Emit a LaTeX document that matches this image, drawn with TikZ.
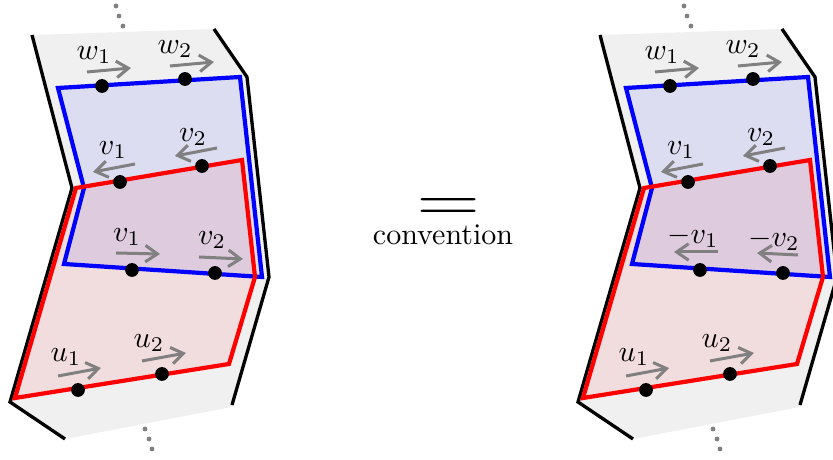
\documentclass[tikz,border=0pt]{standalone}
\usetikzlibrary{arrows.meta}
\definecolor{sheet}{RGB}{240,240,240}
\tikzset{
  edge/.style={line width=1.1pt, draw=black, line join=miter},
  sheetfill/.style={fill=sheet, draw=none},
  bfill/.style={fill=blue, fill opacity=0.08, draw=none},
  rfill/.style={fill=red, fill opacity=0.08, draw=none},
  bline/.style={draw=blue, line width=1.4pt, line join=miter},
  rline/.style={draw=red, line width=1.4pt, line join=miter},
  dot/.style={circle, fill=black, inner sep=0pt, minimum size=4.6pt},
  vdot/.style={circle, fill=gray, inner sep=0pt, minimum size=1.6pt},
  vec/.style={draw=gray, line width=1pt, -{Straight Barb[length=4pt,width=5.5pt]}},
  lbl/.style={inner sep=0pt, anchor=center},
}
\begin{document}
\begin{tikzpicture}[x=0.3333pt, y=-0.3333pt]
\useasboundingbox (0,0) rectangle (833,460);
\clip (0,0) rectangle (833,460);

% ---------- left panel ----------
\begin{scope}
  \fill[sheetfill] (32,35) -- (214,29) -- (247,77) -- (269,277) -- (232,407) -- (65,439) -- (10,402) -- (72,188) -- cycle;
  \fill[bfill] (58,88) -- (240,77) -- (262,277) -- (64,264) -- (84,188) -- cycle;
  \fill[rfill] (76,188) -- (242,160) -- (255,277) -- (229,364) -- (15,398) -- cycle;
  \draw[edge] (32,35) -- (72,188) -- (10,402) -- (65,439);
  \draw[edge] (214,29) -- (247,77) -- (269,277) -- (232,405);
  \draw[bline] (58,88) -- (240,77) -- (262,277) -- (64,264) -- (84,188) -- cycle;
  \draw[rline] (76,188) -- (242,160) -- (255,277) -- (229,364) -- (15,398) -- cycle;
  % dots on edges
  \node[dot] (Lw1) at (102,86) {};
  \node[dot] (Lw2) at (185,79) {};
  \node[dot] (Lv1a) at (120,182) {};
  \node[dot] (Lv2a) at (202,166) {};
  \node[dot] (Lv1b) at (132,270) {};
  \node[dot] (Lv2b) at (215,273) {};
  \node[dot] (Lu1) at (78,390) {};
  \node[dot] (Lu2) at (162,374) {};
  % vectors
  \coordinate (Lw1s) at (87,72);  \coordinate (Lw1e) at (131,68);
  \coordinate (Lw2s) at (170,66); \coordinate (Lw2e) at (214,62);
  \coordinate (Lv1as) at (135,164); \coordinate (Lv1ae) at (93,172);
  \coordinate (Lv2as) at (217,148); \coordinate (Lv2ae) at (175,156);
  \coordinate (Lv1bs) at (116,253); \coordinate (Lv1be) at (160,254);
  \coordinate (Lv2bs) at (199,257); \coordinate (Lv2be) at (243,259);
  \coordinate (Lu1s) at (58,376); \coordinate (Lu1e) at (101,368);
  \coordinate (Lu2s) at (142,361); \coordinate (Lu2e) at (186,353);
  \draw[vec] (Lw1s) -- (Lw1e);
  \draw[vec] (Lw2s) -- (Lw2e);
  \draw[vec] (Lv1as) -- (Lv1ae);
  \draw[vec] (Lv2as) -- (Lv2ae);
  \draw[vec] (Lv1bs) -- (Lv1be);
  \draw[vec] (Lv2bs) -- (Lv2be);
  \draw[vec] (Lu1s) -- (Lu1e);
  \draw[vec] (Lu2s) -- (Lu2e);
  % labels
  \node[lbl] (LTw1) at (94,55) {$w_1$};
  \node[lbl] (LTw2) at (175,49) {$w_2$};
  \node[lbl] (LTv1a) at (113,150) {$v_1$};
  \node[lbl] (LTv2a) at (193,137) {$v_2$};
  \node[lbl] (LTv1b) at (127,237) {$v_1$};
  \node[lbl] (LTv2b) at (212,240) {$v_2$};
  \node[lbl] (LTu1) at (66,357) {$u_1$};
  \node[lbl] (LTu2) at (149,343) {$u_2$};
  % ellipsis dots
  \node[vdot] (Ltd1) at (116,6) {};
  \node[vdot] (Ltd2) at (119,16) {};
  \node[vdot] (Ltd3) at (123,26) {};
  \node[vdot] (Lbd1) at (145,429) {};
  \node[vdot] (Lbd2) at (149,439) {};
  \node[vdot] (Lbd3) at (152,449) {};
\end{scope}

% ---------- middle: "=" with "convention" under it ----------
\node[inner sep=0pt, anchor=south, align=center] (eq) at (443,245)
  {\kern4pt\scalebox{2.75}[2]{$=$}\\[-4pt]convention};

% ---------- right panel ----------
\begin{scope}[shift={(568,0)}]
  \fill[sheetfill] (32,35) -- (214,29) -- (247,77) -- (269,277) -- (232,407) -- (65,439) -- (10,402) -- (72,188) -- cycle;
  \fill[bfill] (58,88) -- (240,77) -- (262,277) -- (64,264) -- (84,188) -- cycle;
  \fill[rfill] (76,188) -- (242,160) -- (255,277) -- (229,364) -- (15,398) -- cycle;
  \draw[edge] (32,35) -- (72,188) -- (10,402) -- (65,439);
  \draw[edge] (214,29) -- (247,77) -- (269,277) -- (232,405);
  \draw[bline] (58,88) -- (240,77) -- (262,277) -- (64,264) -- (84,188) -- cycle;
  \draw[rline] (76,188) -- (242,160) -- (255,277) -- (229,364) -- (15,398) -- cycle;
  \node[dot] (Rw1) at (102,86) {};
  \node[dot] (Rw2) at (185,79) {};
  \node[dot] (Rv1a) at (120,182) {};
  \node[dot] (Rv2a) at (202,166) {};
  \node[dot] (Rv1b) at (132,270) {};
  \node[dot] (Rv2b) at (215,273) {};
  \node[dot] (Ru1) at (78,390) {};
  \node[dot] (Ru2) at (162,374) {};
  \coordinate (Rw1s) at (87,72);  \coordinate (Rw1e) at (131,68);
  \coordinate (Rw2s) at (170,66); \coordinate (Rw2e) at (214,62);
  \coordinate (Rv1as) at (135,164); \coordinate (Rv1ae) at (93,172);
  \coordinate (Rv2as) at (217,148); \coordinate (Rv2ae) at (175,156);
  \coordinate (Rv1bs) at (150,252); \coordinate (Rv1be) at (106,252);
  \coordinate (Rv2bs) at (230,255); \coordinate (Rv2be) at (189,253);
  \coordinate (Ru1s) at (58,376); \coordinate (Ru1e) at (101,368);
  \coordinate (Ru2s) at (142,361); \coordinate (Ru2e) at (186,353);
  \draw[vec] (Rw1s) -- (Rw1e);
  \draw[vec] (Rw2s) -- (Rw2e);
  \draw[vec] (Rv1as) -- (Rv1ae);
  \draw[vec] (Rv2as) -- (Rv2ae);
  \draw[vec] (Rv1bs) -- (Rv1be);
  \draw[vec] (Rv2bs) -- (Rv2be);
  \draw[vec] (Ru1s) -- (Ru1e);
  \draw[vec] (Ru2s) -- (Ru2e);
  \node[lbl] (RTw1) at (94,55) {$w_1$};
  \node[lbl] (RTw2) at (175,49) {$w_2$};
  \node[lbl] (RTv1a) at (113,150) {$v_1$};
  \node[lbl] (RTv2a) at (193,137) {$v_2$};
  \node[lbl] (RTv1b) at (125,237) {$-v_1$};
  \node[lbl] (RTv2b) at (206,240) {$-v_2$};
  \node[lbl] (RTu1) at (66,357) {$u_1$};
  \node[lbl] (RTu2) at (149,343) {$u_2$};
  \node[vdot] (Rtd1) at (116,6) {};
  \node[vdot] (Rtd2) at (119,16) {};
  \node[vdot] (Rtd3) at (123,26) {};
  \node[vdot] (Rbd1) at (145,429) {};
  \node[vdot] (Rbd2) at (149,439) {};
  \node[vdot] (Rbd3) at (152,449) {};
\end{scope}
\end{tikzpicture}
\end{document}
